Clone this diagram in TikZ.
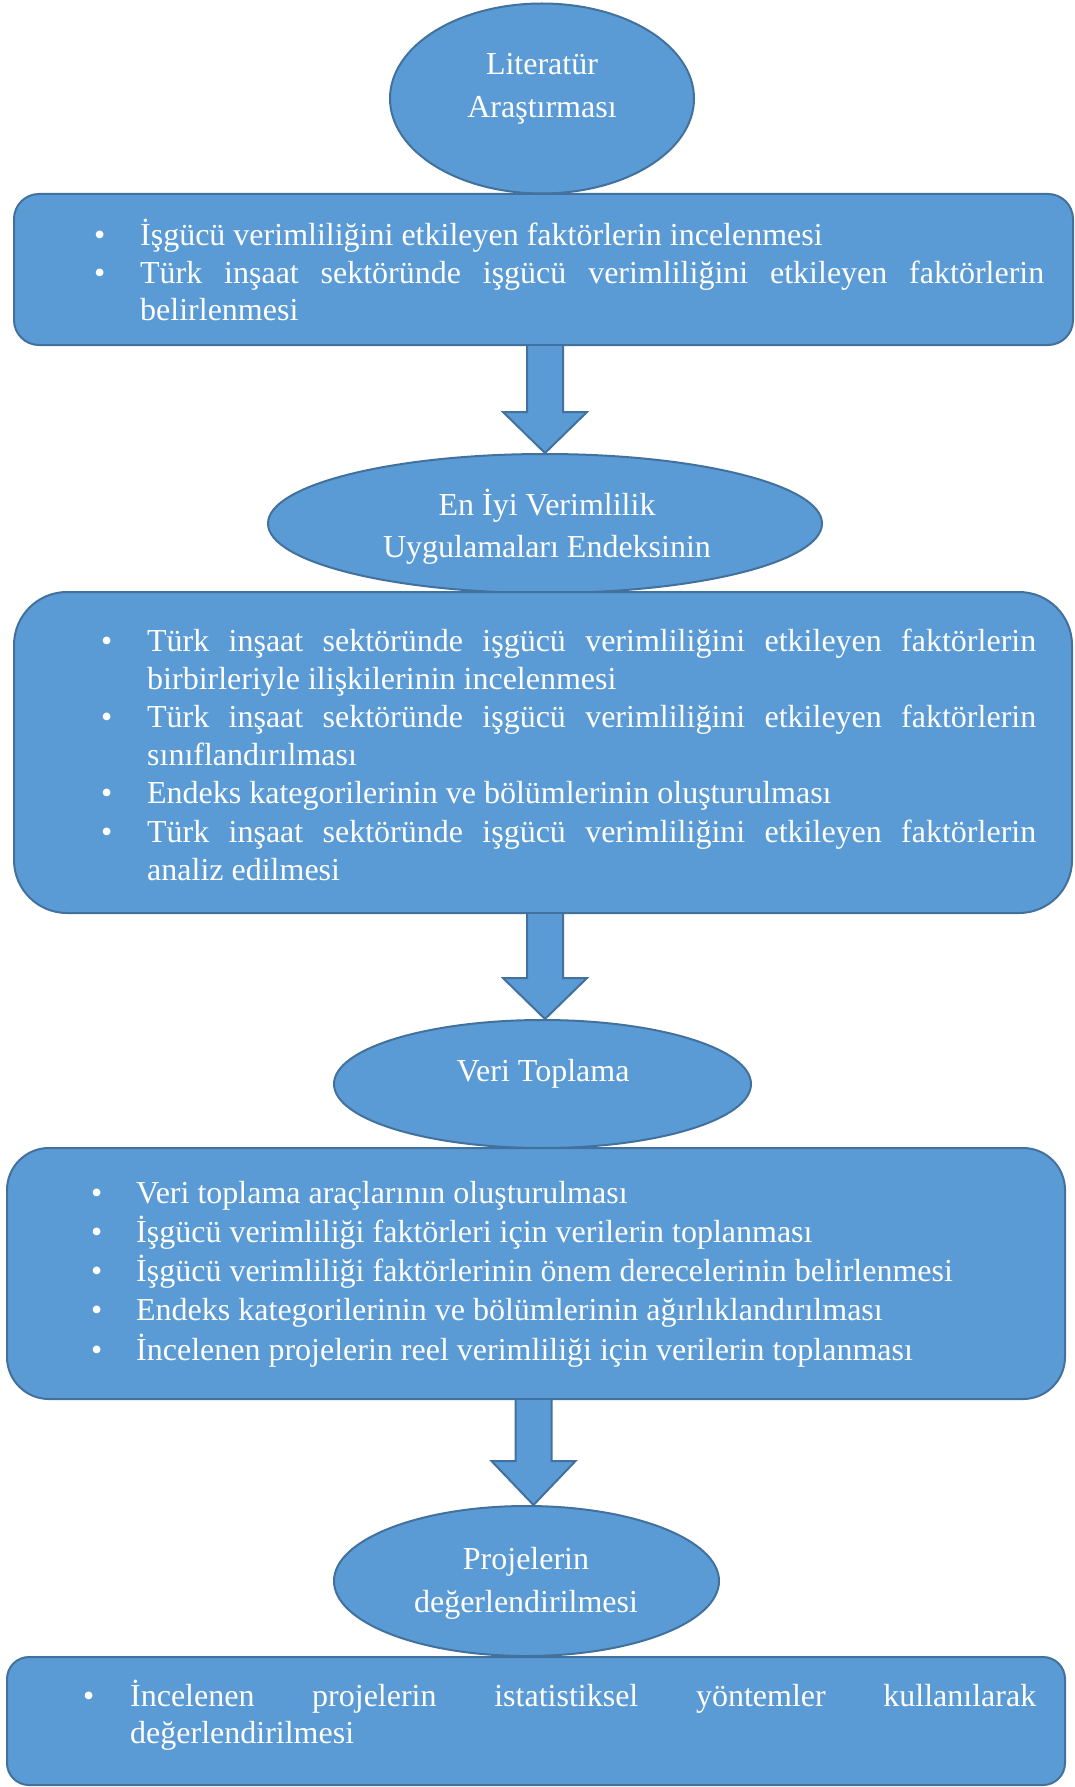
\documentclass[tikz,border=0pt]{standalone}
\usepackage{fontspec}
\setmainfont{Liberation Serif}
\usetikzlibrary{shapes.geometric,calc}
\definecolor{fillc}{HTML}{5B9BD5}
\definecolor{bordc}{HTML}{41719C}
\newlength\tind
\newcommand\bitem[1]{\noindent\hangindent=\tind\hangafter=1\makebox[\tind][l]{\textbullet}#1\par}
\newcommand\boxsetup[2]{\setlength{\tind}{#1}\parindent=0pt\fontsize{32}{#2}\selectfont\spaceskip=8pt plus 30pt minus 1pt\xspaceskip=0pt\relax}
\hyphenpenalty=10000
\exhyphenpenalty=10000
\tolerance=9999
\emergencystretch=20pt
\begin{document}
\begin{tikzpicture}[x=1pt,y=-1pt,
 shp/.style={draw=bordc,fill=fillc,line width=2pt},
 ell/.style={shp,ellipse,inner sep=0pt},
 rbox/.style={shp,rectangle,inner sep=0pt},
 blk/.style={shp,line join=miter},
 lbl/.style={text=white,font=\fontsize{32}{43}\selectfont,align=flush center,text width=500pt,inner sep=0pt,anchor=base},
 txt/.style={text=white,inner sep=0pt,anchor=base west,align=justify},
]
\useasboundingbox (0,0) rectangle (1074,1787);
\fill[white] (0,0) rectangle (1074,1787);
% anchors for arrow axes
\coordinate (a1) at (545,0);
\coordinate (a2) at (545,0);
\coordinate (a3) at (533.5,0);
% ellipses
\node[ell,minimum width=304pt,minimum height=190pt] (e1) at (542,98.5) {};
\node[ell,minimum width=554pt,minimum height=139pt] (e2) at (545,523.5) {};
\node[ell,minimum width=417pt,minimum height=128pt] (e3) at (542.5,1084) {};
\node[ell,minimum width=385pt,minimum height=150pt] (e4) at (526.5,1581) {};
% boxes
\node[rbox,rounded corners=25pt,minimum width=1059pt,minimum height=151pt] (b1) at (543.5,269.5) {};
\node[rbox,rounded corners=53pt,minimum width=1058pt,minimum height=321pt] (b2) at (543,752.5) {};
\node[rbox,rounded corners=42pt,minimum width=1058pt,minimum height=251pt] (b3) at (536,1273.5) {};
\node[rbox,rounded corners=22pt,minimum width=1058pt,minimum height=128pt] (b4) at (536,1721) {};
% block arrows
\draw[blk] let \p1=(b1.south -| a1), \p2=(e2.north -| a1) in
  (\x1-18pt,\y1) -- (\x1-18pt,\y2+41pt) -- (\x1-42pt,\y2+41pt) -- (\x2,\y2)
  -- (\x1+42pt,\y2+41pt) -- (\x1+18pt,\y2+41pt) -- (\x1+18pt,\y1);
\draw[blk] let \p1=(b2.south -| a2), \p2=(e3.north -| a2) in
  (\x1-18pt,\y1) -- (\x1-18pt,\y2+41pt) -- (\x1-42pt,\y2+41pt) -- (\x2,\y2)
  -- (\x1+42pt,\y2+41pt) -- (\x1+18pt,\y2+41pt) -- (\x1+18pt,\y1);
\draw[blk] let \p1=(b3.south -| a3), \p2=(e4.north -| a3) in
  (\x1-18pt,\y1) -- (\x1-18pt,\y2+44pt) -- (\x1-42pt,\y2+44pt) -- (\x2,\y2)
  -- (\x1+42pt,\y2+44pt) -- (\x1+18pt,\y2+44pt) -- (\x1+18pt,\y1);
% ellipse labels
\node[lbl] (l1) at (542,74.5) {Literatür\\Araştırması};
\node[lbl,font=\fontsize{32}{42}\selectfont] (l2) at (547,515.5) {En İyi Verimlilik\\Uygulamaları Endeksinin};
\node[lbl] (l3) at (543,1081) {Veri Toplama};
\node[lbl] (l4) at (526,1569) {Projelerin\\değerlendirilmesi};
% box texts
\node[txt,text width=950pt] (t1) at (94,246) {\boxsetup{46pt}{37.5}%
\bitem{İşgücü verimliliğini etkileyen faktörlerin incelenmesi}%
\bitem{Türk inşaat sektöründe işgücü verimliliğini etkileyen faktörlerin\linebreak belirlenmesi}};
\node[txt,text width=935pt] (t2) at (101,651) {\boxsetup{46pt}{38.2}%
\bitem{Türk inşaat sektöründe işgücü verimliliğini etkileyen faktörlerin\linebreak birbirleriyle ilişkilerinin incelenmesi}%
\bitem{Türk inşaat sektöründe işgücü verimliliğini etkileyen faktörlerin\linebreak sınıflandırılması}%
\bitem{Endeks kategorilerinin ve bölümlerinin oluşturulması}%
\bitem{Türk inşaat sektöründe işgücü verimliliğini etkileyen faktörlerin\linebreak analiz edilmesi}};
\node[txt,text width=960pt] (t3) at (91,1203) {\boxsetup{45pt}{39.3}%
\bitem{Veri toplama araçlarının oluşturulması}%
\bitem{İşgücü verimliliği faktörleri için verilerin toplanması}%
\bitem{İşgücü verimliliği faktörlerinin önem derecelerinin belirlenmesi}%
\bitem{Endeks kategorilerinin ve bölümlerinin ağırlıklandırılması}%
\bitem{İncelenen projelerin reel verimliliği için verilerin toplanması}};
\node[txt,text width=953pt] (t4) at (83,1706) {\boxsetup{47pt}{37}%
\bitem{İncelenen projelerin istatistiksel yöntemler kullanılarak\linebreak değerlendirilmesi}};
\end{tikzpicture}
\end{document}
